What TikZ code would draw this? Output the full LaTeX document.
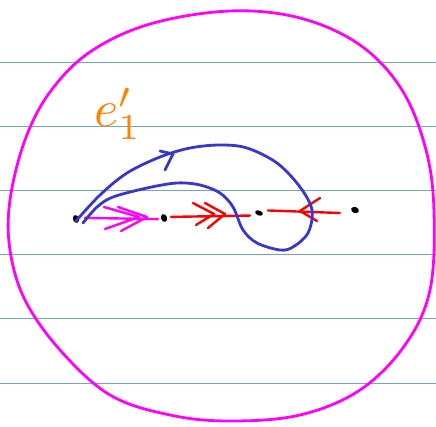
\documentclass[tikz,border=0pt]{standalone}
\usepackage{tikz}
\usetikzlibrary{shapes.geometric}
\definecolor{ruled}{RGB}{110,160,220}
\definecolor{mag}{RGB}{255,0,255}
\definecolor{penblue}{RGB}{55,55,205}
\definecolor{penorange}{RGB}{255,130,0}
\tikzset{
  rule/.style={ruled, line width=1pt},
  pen/.style={line width=2.8pt, line cap=round, line join=round},
  thinpen/.style={line width=2.4pt, line cap=round, line join=round},
  dotnode/.style={ellipse, fill=black, inner sep=0pt, minimum width=6pt, minimum height=8pt},
}
\begin{document}
\begin{tikzpicture}[x=1pt,y=-1pt]
\useasboundingbox (0,0) rectangle (436,427);
\fill[white] (0,0) rectangle (436,427);
\foreach \yy in {63,127,191,255,319,383} \draw[rule] (0,\yy) -- (436,\yy);
% big circle
\draw[pen, mag] plot[smooth cycle, tension=0.6] coordinates {
 (230,11) (300,18) (360,45) (402,90) (426,150) (434,212) (430,290) (405,345)
 (360,390) (300,415) (230,421) (170,415) (110,395) (60,350) (25,300) (10,250)
 (10,200) (25,140) (50,92) (90,52) (150,24)};
% label
\node[penorange, scale=5.2, anchor=base west, inner sep=0pt] (lab) at (93,127) {$e_1'$};
% dots
\node[dotnode, rotate=20] (a) at (76,219) {};
\node[dotnode, rotate=20] (b) at (164,218) {};
\node[dotnode, minimum width=5pt, minimum height=8pt, rotate=70] (c) at (259,213) {};
\node[dotnode, minimum width=6pt, minimum height=8pt, rotate=70] (d) at (355,210) {};
% magenta edge a-b
\draw[thinpen, mag] ([xshift=6pt]a.east) -- ([xshift=-3pt]b.west);
\draw[thinpen, mag] (104,207) -- (139,217) -- (105,229);
\draw[thinpen, mag] (118,207) -- (147,217) -- (121,231);
% red edge b-c
\draw[thinpen, red] ([xshift=4pt]b.east) -- ([xshift=-8pt]c.west);
\draw[thinpen, red] (193,203) -- (214,214) -- (196,225);
\draw[thinpen, red] (205,203) -- (225,214) -- (208,228);
% red edge c-d
\draw[thinpen, red] ([xshift=8pt]c.east) -- ([xshift=-14pt]d.west);
\draw[thinpen, red] (320,198) -- (300,211) -- (317,221);
% blue loop
\draw[pen, penblue] plot[smooth, tension=0.55] coordinates {
 (76,221) (100,195) (127,173) (160,157) (190,148) (220,145) (247,148) (277,163)
 (300,187) (312,210) (308,233) (293,247) (280,250) (257,243) (243,230) (233,207)
 (220,193) (200,185) (177,183) (147,188) (113,197) (97,207) (83,223)};
\draw[pen, penblue] (160,151) -- (173,154) -- (165,170);
\end{tikzpicture}
\end{document}
